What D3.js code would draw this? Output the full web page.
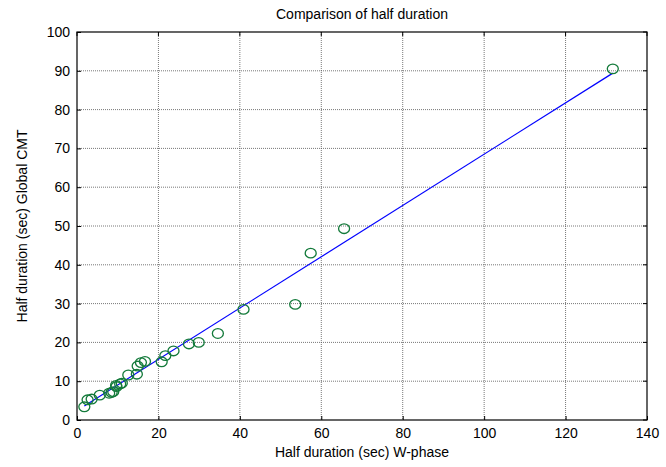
<!DOCTYPE html>
<html>
<head>
<meta charset="utf-8">
<script src="https://cdn.jsdelivr.net/npm/d3@7"></script>
<style>
  body { margin: 0; background: #fff; }
  svg { font-family: "Liberation Sans", Arial, sans-serif; }
</style>
</head>
<body>
<div class="chart"></div>
<script>
// half duration values (sec)
var wphase = [1.8, 2.6, 3.6, 5.6, 7.9, 8.5, 8.9, 9.6, 9.7, 10.6, 11.0, 12.6, 14.7, 14.9, 15.7, 16.7,
              20.8, 21.7, 23.7, 27.5, 29.9, 34.6, 40.9, 53.6, 57.4, 65.6, 131.6];
var gcmt   = [3.4, 5.2, 5.4, 6.4, 6.9, 7.1, 7.3, 8.9, 8.6, 9.3, 9.5, 11.6, 11.8, 13.9, 14.8, 15.1,
              15.0, 16.6, 17.8, 19.6, 20.0, 22.3, 28.5, 29.8, 43.0, 49.3, 90.5];
// least squares line end points
var fitX = [1.8, 131.6];
var fitY = [3.6, 89.4];
var xTicks = [0, 20, 40, 60, 80, 100, 120, 140];
var yTicks = [0, 10, 20, 30, 40, 50, 60, 70, 80, 90, 100];

var width = 666, height = 467;
var pLeft = 77, pRight = 647, pTop = 32, pBottom = 420;

var svg = d3.select(".chart").append("svg").attr("width", width).attr("height", height);

var x = d3.scaleLinear().domain([0, 140]).range([pLeft, pRight]);
var y = d3.scaleLinear().domain([0, 100]).range([pBottom, pTop]);

// grid
var grid = svg.append("g").attr("stroke", "#555").attr("stroke-width", 0.8).attr("stroke-dasharray", "1,1");
for (var i = 1; i < xTicks.length - 1; i++) {
    grid.append("line").attr("x1", x(xTicks[i])).attr("x2", x(xTicks[i])).attr("y1", pTop).attr("y2", pBottom);
}
for (var i = 1; i < yTicks.length - 1; i++) {
    grid.append("line").attr("x1", pLeft).attr("x2", pRight).attr("y1", y(yTicks[i])).attr("y2", y(yTicks[i]));
}

// axes
var xAxis = svg.append("g").attr("transform", "translate(0," + pBottom + ")")
    .call(d3.axisBottom(x).tickValues(xTicks).tickSize(-4).tickPadding(8).tickSizeOuter(0));
var yAxis = svg.append("g").attr("transform", "translate(" + pLeft + ",0)")
    .call(d3.axisLeft(y).tickValues(yTicks).tickSize(-4).tickPadding(7).tickSizeOuter(0));
[xAxis, yAxis].forEach(function(a) {
    a.select(".domain").remove();
    a.selectAll("line").attr("stroke", "#000");
    a.selectAll("text").attr("font-size", 14).attr("fill", "#000")
        .attr("font-family", "'Liberation Sans', Arial, sans-serif");
});
// top/right ticks
var tk = svg.append("g").attr("stroke", "#000");
for (var i = 0; i < xTicks.length; i++) {
    tk.append("line").attr("x1", x(xTicks[i])).attr("x2", x(xTicks[i])).attr("y1", pTop).attr("y2", pTop + 4);
}
for (var i = 0; i < yTicks.length; i++) {
    tk.append("line").attr("x1", pRight).attr("x2", pRight - 4).attr("y1", y(yTicks[i])).attr("y2", y(yTicks[i]));
}
svg.append("rect").attr("x", pLeft).attr("y", pTop).attr("width", pRight - pLeft).attr("height", pBottom - pTop)
    .attr("fill", "none").attr("stroke", "#000").attr("stroke-width", 1.2);

// fit line
svg.append("line").attr("x1", x(fitX[0])).attr("y1", y(fitY[0])).attr("x2", x(fitX[1])).attr("y2", y(fitY[1]))
    .attr("stroke", "#0000ff").attr("stroke-width", 1.2);

// points
svg.append("g").selectAll("ellipse").data(wphase).enter().append("ellipse")
    .attr("cx", function(d) { return x(d); })
    .attr("cy", function(d, i) { return y(gcmt[i]); })
    .attr("rx", 5.5).attr("ry", 4.8)
    .attr("fill", "none").attr("stroke", "#137a3a").attr("stroke-width", 1.3);

// labels
svg.append("text").attr("x", (pLeft + pRight) / 2).attr("y", 19).attr("text-anchor", "middle")
    .attr("font-size", 14).text("Comparison of half duration");
svg.append("text").attr("x", (pLeft + pRight) / 2).attr("y", 457).attr("text-anchor", "middle")
    .attr("font-size", 14).text("Half duration (sec) W-phase");
svg.append("text").attr("transform", "translate(27," + (pTop + pBottom) / 2 + ") rotate(-90)")
    .attr("text-anchor", "middle").attr("font-size", 14).text("Half duration (sec) Global CMT");
</script>
</body>
</html>
